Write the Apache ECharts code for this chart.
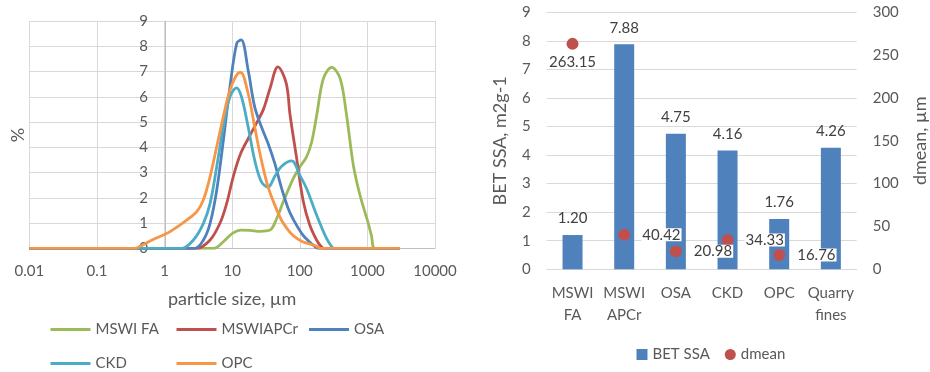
<!DOCTYPE html>
<html><head><meta charset="utf-8">
<script src="https://cdn.jsdelivr.net/npm/echarts/dist/echarts.min.js"></script>
<style>html,body{margin:0;padding:0;background:#fff}#c{width:930px;height:372px}</style>
</head><body><div id="c"></div>
<script>
// ---- Left chart: particle size distribution (x = particle size µm, y = %) ----
const sizeTicks = [0.01, 0.1, 1, 10, 100, 1000, 10000];
const psdNames = ['MSWI FA', 'MSWIAPCr', 'OSA', 'CKD', 'OPC'];
const mswiFA = [[0.01,0],[5.3,0],[7.4,0.26],[10.2,0.6],[13.5,0.72],[18.4,0.71],[25.8,0.67],[36.3,0.72],[45.6,1.18],[57,1.84],[80,2.76],[100,3.22],[126,3.62],[150,4.21],[178,5.27],[224,6.73],[296,7.16],[395,6.73],[492,5.27],[620,3.29],[778,2.1],[1018,1.04],[1150,0.5],[1300,0],[3000,0]];
const mswiAPCr = [[0.01,0],[3.0,0],[4.72,0.33],[6.6,0.99],[8.3,1.78],[10.4,2.84],[13.4,3.76],[18.4,4.48],[21.5,4.82],[29,5.5],[36.3,6.33],[47.5,7.18],[63,6.54],[71.7,5.3],[90,3.56],[113,1.84],[141,0.91],[178,0.32],[210,0.05],[230,0],[3000,0]];
const osa = [[0.01,0],[2.8,0],[3.76,0.33],[4.72,0.99],[5.92,2.31],[7.42,4.29],[9.3,6.41],[11.7,8.12],[13.6,8.25],[17.2,7.07],[21.5,5.61],[27,4.82],[33.9,4.16],[42.6,3.37],[53.5,2.4],[67,1.6],[80,1.15],[113,0.5],[159,0.12],[185,0],[3000,0]];
const ckd = [[0.01,0],[1.8,0],[2.67,0.33],[3.76,0.99],[4.72,1.78],[5.92,3.24],[7.42,4.82],[9.3,6.01],[11.6,6.35],[13.7,6.01],[17.2,4.82],[21.5,3.5],[27,2.64],[34,2.42],[42.6,2.84],[53.5,3.24],[76,3.46],[100,2.9],[126,2.37],[178,1.31],[250,0.38],[300,0.05],[320,0],[3000,0]];
const opc = [[0.01,0],[0.36,0],[0.45,0.1],[0.6,0.28],[1,0.55],[1.21,0.66],[2.13,1.12],[3.0,1.45],[3.76,1.92],[4.72,2.84],[5.92,4.03],[7.42,5.22],[9.3,6.27],[12.3,6.94],[13.4,6.96],[17.2,6.14],[21.5,4.82],[27,3.5],[33.9,2.44],[42.6,1.72],[53.5,1.12],[67,0.73],[80,0.5],[110,0.26],[150,0.15],[178,0.08],[200,0],[3000,0]];
const psdData = [mswiFA, mswiAPCr, osa, ckd, opc];
const psdColors = ['#9bbb59', '#c0504d', '#4f81bd', '#4bacc6', '#f79646'];

// ---- Right chart: BET SSA bars and dmean points ----
const materials = ['MSWI\nFA', 'MSWI\nAPCr', 'OSA', 'CKD', 'OPC', 'Quarry\nfines'];
const betSSA = [1.20, 7.88, 4.75, 4.16, 1.76, 4.26];
const dmean = [263.15, 40.42, 20.98, 34.33, 16.76, null];

const FONT = 'Lato';
const TXT = '#595959';
const LBL = '#404040';

const chart = echarts.init(document.getElementById('c'), null, {renderer: 'canvas'});

const legendPos = [[50.5, 322], [176.5, 322], [309, 322], [50.5, 356], [176.5, 356]];
const legends = psdNames.map((n, i) => ({
  data: [n], left: legendPos[i][0], top: legendPos[i][1], icon: 'rect',
  itemWidth: 40, itemHeight: 3, padding: 0, selectedMode: false,
  textStyle: {fontFamily: FONT, fontSize: 15, color: TXT}
}));
legends.push({
  data: [{name: 'BET SSA', icon: 'rect'}, {name: 'dmean', icon: 'circle'}],
  left: 636.5, top: 347, itemWidth: 11, itemHeight: 11, itemGap: 15, padding: 0,
  selectedMode: false, textStyle: {fontFamily: FONT, fontSize: 15, color: TXT}
});

const option = {
  animation: false,
  textStyle: {fontFamily: FONT},
  grid: [
    {left: 29.3, top: 21, width: 405.7, height: 227.3},
    {left: 546.7, top: 12.3, width: 310, height: 257}
  ],
  legend: legends,
  graphic: [{type: 'text', x: 18, y: 135, rotation: Math.PI / 2,
    style: {text: '%', fontFamily: FONT, fontSize: 18, fill: TXT, align: 'center', verticalAlign: 'middle'}}],
  xAxis: [
    {type: 'log', logBase: 10, gridIndex: 0, min: sizeTicks[0], max: sizeTicks[sizeTicks.length - 1], splitNumber: 6,
     name: 'particle size, µm', nameLocation: 'middle', nameGap: 42,
     nameTextStyle: {fontFamily: FONT, fontSize: 18, color: TXT},
     axisLine: {show: true, lineStyle: {color: '#bfbfbf', width: 1}}, axisTick: {show: false},
     splitLine: {show: true, lineStyle: {color: '#d9d9d9', width: 1}},
     axisLabel: {margin: 15, fontFamily: FONT, fontSize: 15, color: TXT,
       formatter: v => { const e = Math.round(Math.log10(v)); return e < 0 ? v.toFixed(-e) : String(Math.round(v)); }}},
    {type: 'category', gridIndex: 1, data: materials, boundaryGap: true,
     axisLine: {show: true, lineStyle: {color: '#d9d9d9', width: 1}}, axisTick: {show: false},
     axisLabel: {margin: 13, fontFamily: FONT, fontSize: 15, color: TXT, lineHeight: 22, interval: 0}}
  ],
  yAxis: [
    {type: 'value', gridIndex: 0, min: 0, max: 9, interval: 1, offset: -135.7,
     axisLine: {show: true, onZero: false, lineStyle: {color: '#bfbfbf', width: 1}}, axisTick: {show: false},
     splitLine: {show: true, lineStyle: {color: '#d9d9d9', width: 1}},
     axisLabel: {margin: 17, fontFamily: FONT, fontSize: 15, color: TXT}},
    {type: 'value', gridIndex: 1, min: 0, max: 9, interval: 1, position: 'left',
     name: 'BET SSA, m2g-1', nameLocation: 'middle', nameGap: 38, nameRotate: 90,
     nameTextStyle: {fontFamily: FONT, fontSize: 18, color: TXT},
     axisLine: {show: false}, axisTick: {show: false},
     splitLine: {show: true, lineStyle: {color: '#d9d9d9', width: 1}},
     axisLabel: {margin: 16, fontFamily: FONT, fontSize: 15, color: TXT}},
    {type: 'value', gridIndex: 1, min: 0, max: 300, interval: 50, position: 'right',
     name: 'dmean, µm', nameLocation: 'middle', nameGap: 54, nameRotate: 90,
     nameTextStyle: {fontFamily: FONT, fontSize: 18, color: TXT},
     axisLine: {show: false}, axisTick: {show: false}, splitLine: {show: false},
     axisLabel: {margin: 16, fontFamily: FONT, fontSize: 15, color: TXT}}
  ],
  series: [
    ...psdNames.map((n, i) => ({
      name: n, type: 'line', xAxisIndex: 0, yAxisIndex: 0, data: psdData[i],
      smooth: 0.35, showSymbol: false, symbol: 'none', color: psdColors[i],
      lineStyle: {width: 2.8, color: psdColors[i]}
    })),
    {name: 'BET SSA', type: 'bar', xAxisIndex: 1, yAxisIndex: 1, data: betSSA, barWidth: 20,
     color: '#4f81bd', itemStyle: {color: '#4f81bd'},
     label: {show: true, position: 'top', distance: 9, fontFamily: FONT, fontSize: 15, fontWeight: 'normal',
       color: LBL, textBorderWidth: 0, formatter: p => p.value.toFixed(2)}},
    {name: 'dmean', type: 'scatter', xAxisIndex: 1, yAxisIndex: 2, symbolSize: 12, z: 3,
     color: '#c0504d', itemStyle: {color: '#c0504d', opacity: 1},
     data: dmean.map((v, i) => ({
       value: v === null ? '-' : v,
       label: i === 0 ? {position: 'bottom', distance: 6} : {position: 'right', distance: 11}
     })),
     label: {show: true, fontFamily: FONT, fontSize: 15, fontWeight: 'normal', color: LBL,
       textBorderWidth: 0, backgroundColor: '#ffffff', lineHeight: 13, padding: [0, 1, 0, 1],
       formatter: p => (typeof p.value === 'number' ? p.value.toFixed(2) : '')}}
  ]
};
chart.setOption(option);
</script></body></html>
